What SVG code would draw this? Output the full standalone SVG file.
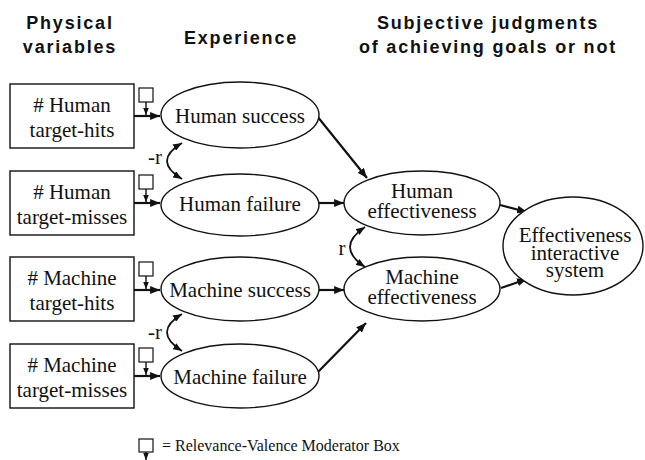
<svg xmlns="http://www.w3.org/2000/svg" width="645" height="460" viewBox="0 0 645 460">
  <style>
    .head { font-family: "Liberation Sans", Arial, sans-serif; font-weight: bold; font-size: 18px; letter-spacing: 1.8px; text-anchor: middle; fill: #111; }
    .lbl { font-family: "Liberation Serif", "Times New Roman", serif; font-size: 21px; text-anchor: middle; fill: #111; }
    .box { fill: #fff; stroke: #111; stroke-width: 1.4; }
    .ell { fill: #fff; stroke: #111; stroke-width: 1.4; }
    .mod { fill: #fff; stroke: #111; stroke-width: 1.2; }
    .edge { fill: none; stroke: #111; stroke-width: 2.2; marker-end: url(#arr); }
    .modarr { fill: none; stroke: #111; stroke-width: 1.4; marker-end: url(#arrS); }
    .corr { fill: none; stroke: #111; stroke-width: 1.8; marker-start: url(#arrC); marker-end: url(#arrC); }
  </style>
  <defs>
    <marker id="arr" viewBox="0 0 10 8" refX="10" refY="4" markerWidth="4.5" markerHeight="3.6" markerUnits="strokeWidth" orient="auto">
      <path d="M0,0 L10,4 L0,8 z" fill="#111"/>
    </marker>
    <marker id="arrS" viewBox="0 0 10 8" refX="10" refY="4" markerWidth="5" markerHeight="4" markerUnits="strokeWidth" orient="auto">
      <path d="M0,0 L10,4 L0,8 z" fill="#111"/>
    </marker>
    <marker id="arrC" viewBox="0 0 10 8" refX="10" refY="4" markerWidth="5" markerHeight="4" markerUnits="strokeWidth" orient="auto-start-reverse">
      <path d="M0,0 L10,4 L0,8 z" fill="#111"/>
    </marker>
  </defs>

  <!-- column headings -->
  <g id="headings">
    <text class="head" x="70" y="29">Physical</text>
    <text class="head" x="70" y="53">variables</text>
    <text class="head" x="241" y="44">Experience</text>
    <text class="head" x="488" y="29">Subjective judgments</text>
    <text class="head" x="488" y="53">of achieving goals or not</text>
  </g>

  <!-- connectors -->
  <g id="connectors">
    <line class="edge" x1="134" y1="116" x2="160" y2="116"/>
    <line class="edge" x1="134" y1="203" x2="160" y2="203"/>
    <line class="edge" x1="134" y1="290" x2="160" y2="290"/>
    <line class="edge" x1="134" y1="376" x2="160" y2="376"/>
    <line class="modarr" x1="146" y1="102" x2="146" y2="115"/>
    <line class="modarr" x1="146" y1="189" x2="146" y2="202"/>
    <line class="modarr" x1="146" y1="276" x2="146" y2="289"/>
    <line class="modarr" x1="146" y1="362" x2="146" y2="375"/>
    <line class="edge" x1="317" y1="116" x2="367" y2="178"/>
    <line class="edge" x1="319" y1="203" x2="344" y2="203"/>
    <line class="edge" x1="319" y1="290" x2="344" y2="290"/>
    <line class="edge" x1="317" y1="373" x2="366" y2="323"/>
    <line class="edge" x1="500" y1="205" x2="527" y2="212"/>
    <line class="edge" x1="501" y1="288" x2="527" y2="279"/>
    <path class="corr" d="M182,143 Q152,161 182,179"/>
    <path class="corr" d="M182,314 Q152,332 182,351"/>
    <path class="corr" d="M365,227 Q335,247 365,267"/>
    <text class="lbl" x="155" y="164">-r</text>
    <text class="lbl" x="155" y="339">-r</text>
    <text class="lbl" x="342" y="255">r</text>
  </g>

  <!-- moderator boxes -->
  <g id="moderators">
    <rect class="mod" x="139" y="88" width="14" height="14"/>
    <rect class="mod" x="139" y="175" width="14" height="14"/>
    <rect class="mod" x="139" y="262" width="14" height="14"/>
    <rect class="mod" x="139" y="348" width="14" height="14"/>
  </g>

  <!-- physical variables -->
  <g id="human-hits">
    <rect class="box" x="10" y="84" width="124" height="64"/>
    <text class="lbl" x="72" y="112">&#35; Human</text>
    <text class="lbl" x="72" y="137">target-hits</text>
  </g>
  <g id="human-misses">
    <rect class="box" x="10" y="171" width="124" height="64"/>
    <text class="lbl" x="72" y="199">&#35; Human</text>
    <text class="lbl" x="72" y="224">target-misses</text>
  </g>
  <g id="machine-hits">
    <rect class="box" x="10" y="257" width="124" height="64"/>
    <text class="lbl" x="72" y="285">&#35; Machine</text>
    <text class="lbl" x="72" y="310">target-hits</text>
  </g>
  <g id="machine-misses">
    <rect class="box" x="10" y="344" width="124" height="64"/>
    <text class="lbl" x="72" y="372">&#35; Machine</text>
    <text class="lbl" x="72" y="397">target-misses</text>
  </g>

  <!-- experience -->
  <g id="human-success">
    <ellipse class="ell" cx="240" cy="115" rx="79" ry="33"/>
    <text class="lbl" x="240" y="123">Human success</text>
  </g>
  <g id="human-failure">
    <ellipse class="ell" cx="240" cy="205" rx="79" ry="31"/>
    <text class="lbl" x="240" y="211">Human failure</text>
  </g>
  <g id="machine-success">
    <ellipse class="ell" cx="240" cy="289" rx="79" ry="32"/>
    <text class="lbl" x="240" y="297">Machine success</text>
  </g>
  <g id="machine-failure">
    <ellipse class="ell" cx="240" cy="376" rx="79" ry="32"/>
    <text class="lbl" x="240" y="384">Machine failure</text>
  </g>

  <!-- subjective judgments -->
  <g id="human-effectiveness">
    <ellipse class="ell" cx="422" cy="203" rx="78" ry="32"/>
    <text class="lbl" x="422" y="198">Human</text>
    <text class="lbl" x="422" y="218">effectiveness</text>
  </g>
  <g id="machine-effectiveness">
    <ellipse class="ell" cx="422" cy="289" rx="78" ry="32"/>
    <text class="lbl" x="422" y="284">Machine</text>
    <text class="lbl" x="422" y="304">effectiveness</text>
  </g>
  <g id="system-effectiveness">
    <ellipse class="ell" cx="573" cy="246" rx="70" ry="49"/>
    <text class="lbl" x="575" y="242">Effectiveness</text>
    <text class="lbl" x="575" y="260">interactive</text>
    <text class="lbl" x="575" y="277">system</text>
  </g>

  <!-- legend -->
  <g id="legend">
    <rect class="mod" x="139" y="439" width="14" height="13"/>
    <line class="modarr" x1="146" y1="452" x2="146" y2="460"/>
    <text x="162" y="451" style="font-family: 'Liberation Serif', 'Times New Roman', serif; font-size: 16px; fill: #111;">= Relevance-Valence Moderator Box</text>
  </g>
</svg>
